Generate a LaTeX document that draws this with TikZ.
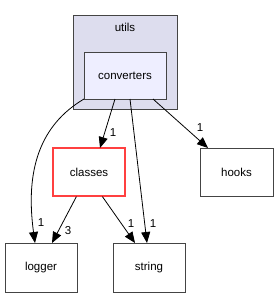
\documentclass[tikz,border=0pt]{standalone}
\usepackage{fontspec}
\setmainfont{Liberation Sans}
\usetikzlibrary{arrows.meta}
\definecolor{clfill}{HTML}{DDDDEE}
\definecolor{nfill}{HTML}{EEEEFF}
\definecolor{bord}{HTML}{444444}
\definecolor{redb}{HTML}{FF4040}
\begin{document}
\begin{tikzpicture}[x=1pt,y=-1pt,
  font=\fontsize{11.5}{13}\selectfont,
  box/.style={draw=bord,line width=1pt,fill=white,inner sep=0pt},
  edge/.style={draw=black,line width=0.8pt,-{Triangle[length=11pt,width=9pt]}},
  lbl/.style={inner sep=0pt,font=\fontsize{11.5}{13}\selectfont}]
\useasboundingbox (0,0) rectangle (277,297);
\draw[bord,fill=clfill,line width=0.9pt] (73,15) rectangle (177,109);
\node[lbl] (utils) at (125,27) {utils};
\node[box,fill=nfill,minimum width=82pt,minimum height=47pt] (conv) at (125,75.5) {converters};
\node[box,draw=redb,line width=1.2pt,minimum width=72pt,minimum height=48pt] (classes) at (89,172) {classes};
\node[box,minimum width=73pt,minimum height=48pt] (hooks) at (236.5,172) {hooks};
\node[box,minimum width=72pt,minimum height=49pt] (logger) at (41,267.5) {logger};
\node[box,minimum width=72pt,minimum height=49pt] (string) at (149,267.5) {string};
\coordinate (c1) at (84,99);
\coordinate (c2) at (115,99);
\coordinate (c3) at (130,99);
\coordinate (c4) at (153,99);
\draw[edge] (c1) .. controls (40,125) and (25,170) .. (35,243);
\draw[edge] (c2) -- (100,148);
\draw[edge] (c3) -- (147,243);
\draw[edge] (c4) -- (208,148);
\draw[edge] (classes.south west) ++(24,0) coordinate (k1) (k1) -- (52,243);
\draw[edge] (classes.south west) ++(50,0) coordinate (k2) (k2) -- (135,243);
\node[lbl] at (41,223) {1};
\node[lbl] at (113,133) {1};
\node[lbl] at (153,224) {1};
\node[lbl] at (200,128) {1};
\node[lbl] at (68,231) {3};
\node[lbl] at (131,224) {1};
\end{tikzpicture}
\end{document}
